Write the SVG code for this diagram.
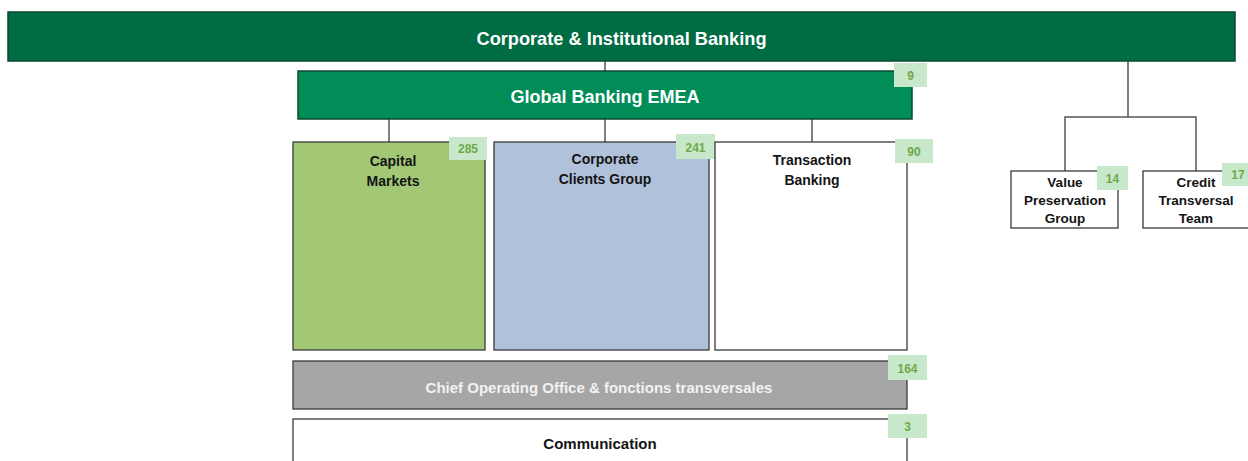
<svg xmlns="http://www.w3.org/2000/svg" width="1248" height="461" viewBox="0 0 1248 461">
<style>
text{font-family:"Liberation Sans",Arial,sans-serif;font-weight:bold;text-anchor:middle}
.box{stroke:#3a3a3a;stroke-width:1.3}
.lbl{font-size:14px;fill:#141414}
.big{font-size:18px;fill:#ffffff}
.badge rect{fill:#c8e8cb}
.badge text{font-size:12px;fill:#6fa84a}
.conn{stroke:#555;stroke-width:1.5;fill:none}
</style>
<rect width="1248" height="461" fill="#fff"/>
<g id="connectors" class="conn">
<path d="M605 61V71"/>
<path d="M389 119V142M605 119V142M812 119V142"/>
<path d="M1128 61V117M1065 171V117H1196V171"/>
</g>
<g id="cib">
<rect x="8" y="12" width="1227" height="49" fill="#006c43" stroke="#0b4a2f" stroke-width="1.5"/>
<text class="big" x="621.5" y="45" style="font-size:18.2px">Corporate &amp; Institutional Banking</text>
</g>
<g id="gb-emea">
<rect x="298" y="71" width="614" height="48" fill="#008d57" stroke="#0b4a2f" stroke-width="1.5"/>
<text class="big" x="605" y="103">Global Banking EMEA</text>
<g class="badge"><rect x="894" y="63" width="33" height="24"/><text x="910.5" y="80">9</text></g>
</g>
<g id="capital-markets">
<rect class="box" x="293" y="142" width="192" height="208" fill="#a2c875"/>
<text class="lbl" x="393" y="166">Capital</text>
<text class="lbl" x="393" y="186">Markets</text>
<g class="badge"><rect x="449" y="137" width="38" height="23"/><text x="468" y="153">285</text></g>
</g>
<g id="corporate-clients">
<rect class="box" x="494" y="142" width="215" height="208" fill="#b0c1da"/>
<text class="lbl" x="605" y="164">Corporate</text>
<text class="lbl" x="605" y="184">Clients Group</text>
<g class="badge"><rect x="676" y="134" width="39" height="25"/><text x="695.5" y="152">241</text></g>
</g>
<g id="transaction-banking">
<rect class="box" x="715" y="142" width="192" height="208" fill="#ffffff"/>
<text class="lbl" x="812" y="165">Transaction</text>
<text class="lbl" x="812" y="185">Banking</text>
<g class="badge"><rect x="895" y="139" width="38" height="24"/><text x="914" y="156">90</text></g>
</g>
<g id="coo">
<rect class="box" x="293" y="361" width="614" height="48" fill="#a6a6a6"/>
<text x="599" y="393" style="font-size:15px;fill:#f2f2f2">Chief Operating Office &amp; fonctions transversales</text>
<g class="badge"><rect x="888" y="355" width="39" height="25"/><text x="907.5" y="373">164</text></g>
</g>
<g id="communication">
<rect class="box" x="293" y="419" width="614" height="60" fill="#ffffff"/>
<text x="600" y="449" style="font-size:15px;fill:#141414">Communication</text>
<g class="badge"><rect x="888" y="414" width="39" height="24"/><text x="907.5" y="431">3</text></g>
</g>
<g id="value-preservation">
<rect class="box" x="1011" y="171" width="107" height="57" fill="#ffffff"/>
<text class="lbl" x="1065" y="187" style="font-size:13.5px">Value</text>
<text class="lbl" x="1065" y="205" style="font-size:13.5px">Preservation</text>
<text class="lbl" x="1065" y="223" style="font-size:13.5px">Group</text>
<g class="badge"><rect x="1097" y="166" width="31" height="24"/><text x="1112.5" y="183">14</text></g>
</g>
<g id="credit-transversal">
<rect class="box" x="1143" y="171" width="108" height="57" fill="#ffffff"/>
<text class="lbl" x="1196" y="187" style="font-size:13.5px">Credit</text>
<text class="lbl" x="1196" y="205" style="font-size:13.5px">Transversal</text>
<text class="lbl" x="1196" y="223" style="font-size:13.5px">Team</text>
<g class="badge"><rect x="1222" y="163" width="30" height="23"/><text x="1238" y="179">17</text></g>
</g>
</svg>
